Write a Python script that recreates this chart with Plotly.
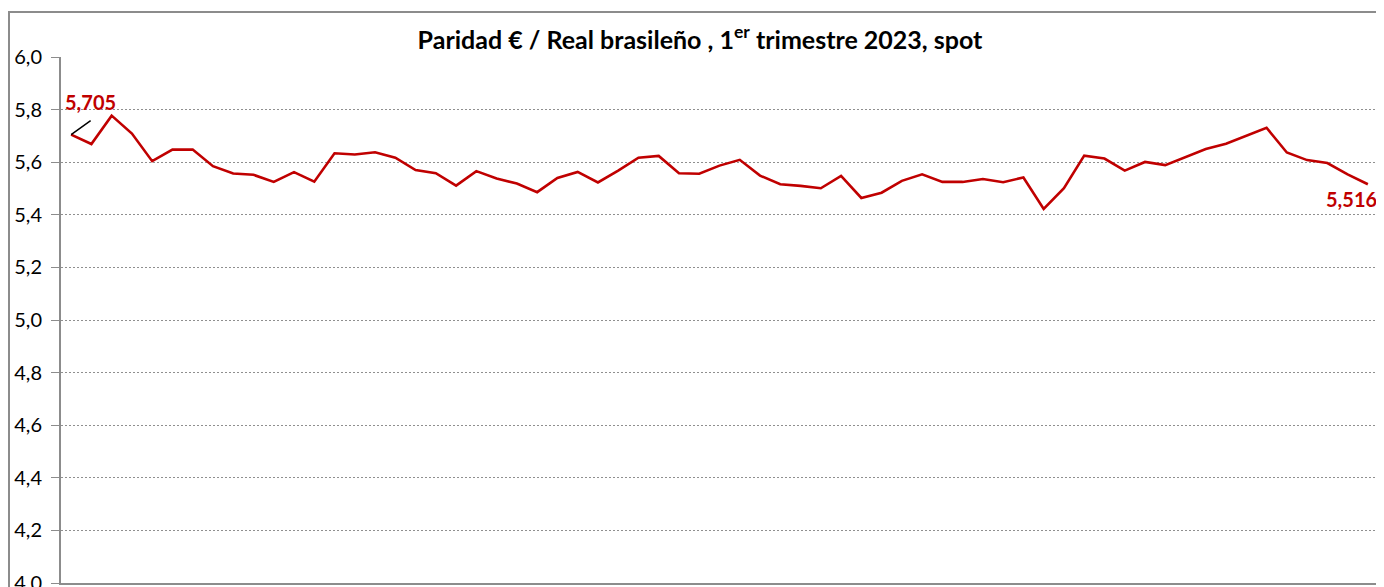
import pandas as pd
import plotly.graph_objects as go

# Trading days of Q1 2023 (categories)
dates = [d.strftime("%d/%m/%Y") for d in pd.bdate_range("2023-01-02", "2023-03-31")]

# EUR/BRL spot values
eur_brl = [
    5.705, 5.669, 5.777, 5.709, 5.604, 5.648, 5.648, 5.585, 5.557, 5.552,
    5.525, 5.562, 5.526, 5.634, 5.629, 5.638, 5.617, 5.570, 5.558, 5.511,
    5.566, 5.538, 5.519, 5.486, 5.540, 5.563, 5.523, 5.568, 5.617, 5.624,
    5.558, 5.556, 5.587, 5.609, 5.549, 5.516, 5.510, 5.501, 5.548, 5.464,
    5.484, 5.529, 5.554, 5.525, 5.525, 5.536, 5.524, 5.542, 5.422, 5.501,
    5.625, 5.614, 5.568, 5.601, 5.589, 5.620, 5.650, 5.670, 5.700, 5.731,
    5.637, 5.608, 5.597, 5.554, 5.516,
]

y_ticks = [4.0, 4.2, 4.4, 4.6, 4.8, 5.0, 5.2, 5.4, 5.6, 5.8, 6.0]
first_label = "5,705"
last_label = "5,516"

RED = "#C00000"
GRAY = "#8C8C8C"
FONT = "Lato, Liberation Sans, sans-serif"

# page body has an 8px margin; size the figure so it fills the window
W, H = 1376, 579

fig = go.Figure()
fig.add_trace(go.Scatter(
    x=dates, y=eur_brl, mode="lines",
    line=dict(color=RED, width=2.6),
    hoverinfo="x+y", showlegend=False,
))

fig.update_layout(
    width=W, height=H,
    margin=dict(l=53, r=6, t=49, b=4, autoexpand=False),
    paper_bgcolor="white", plot_bgcolor="white",
    separators=", ",
    font=dict(family=FONT, size=20, color="#000000"),
    title=dict(
        text="<b>Paridad € / Real brasileño , 1<sup>er</sup> trimestre 2023, spot</b>",
        x=692 / W, xanchor="center", xref="container",
        y=1 - 32 / H, yanchor="middle", yref="container",
        font=dict(family=FONT, size=25, color="#000000"),
    ),
    xaxis=dict(
        type="category", range=[-0.5, len(dates) - 0.5],
        showticklabels=False, showgrid=False, ticks="",
        showline=True, linecolor=GRAY, linewidth=2, zeroline=False,
    ),
    yaxis=dict(
        range=[4.0, 6.0], tickvals=y_ticks, tickformat=".1f",
        showgrid=True, gridcolor="#8F8F8F", gridwidth=1, griddash="2px,2px",
        showline=True, linecolor=GRAY, linewidth=2,
        ticks="outside", ticklen=8, tickcolor=GRAY, tickwidth=1,
        ticklabelstandoff=5, ticklabeloverflow="allow",
        zeroline=False, tickfont=dict(family=FONT, size=20),
    ),
    shapes=[dict(
        type="rect", xref="paper", yref="paper",
        x0=(9 - 61) / 1317, x1=1.02, y0=-0.05, y1=(583 - 12) / 526,
        line=dict(color=GRAY, width=2), fillcolor="rgba(0,0,0,0)", layer="above",
    )],
    annotations=[
        dict(x=dates[0], y=eur_brl[0], text="", showarrow=True,
             arrowhead=0, arrowwidth=1.5, arrowcolor="black", ax=21, ay=-15),
        dict(x=dates[0], y=eur_brl[0], text="<b>" + first_label + "</b>",
             showarrow=False, xanchor="center", yanchor="middle",
             xshift=19, yshift=33, font=dict(color=RED, size=20, family=FONT)),
        dict(x=dates[-1], y=eur_brl[-1], text="<b>" + last_label + "</b>",
             showarrow=False, xanchor="center", yanchor="middle",
             xshift=-16, yshift=-15, font=dict(color=RED, size=20, family=FONT)),
    ],
)

fig.write_html("out.html")
